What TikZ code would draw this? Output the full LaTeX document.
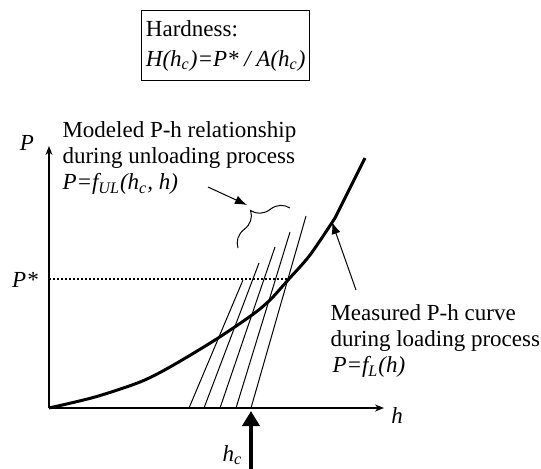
\documentclass[tikz,border=0pt]{standalone}
\usepackage{fontspec}
\setmainfont{Liberation Serif}
\usetikzlibrary{arrows.meta,decorations.pathreplacing}

\begin{document}
\begin{tikzpicture}[x=.5pt,y=-.5pt,>={Latex[length=6pt,width=4.5pt]},line width=.5pt,font=\fontsize{11.5}{13}\selectfont]
  \useasboundingbox (0,0) rectangle (541,468);
  \coordinate (o) at (49,408);
  \coordinate (ptop) at (49,146);
  \coordinate (hend) at (384,408);
  \coordinate (pl) at (49,279);
  \coordinate (pstar) at (288,279);
  \coordinate (hc) at (251,411);
  \coordinate (hcfoot) at (251,470);
  \coordinate (ua) at (208,187); \coordinate (ub) at (247,205);
  \coordinate (la) at (356,290); \coordinate (lb) at (332,222);
  \coordinate (br1) at (238,248); \coordinate (br2) at (290,208);
  % axes
  \draw[-{Stealth[length=4.5pt,width=3.5pt]},line width=1pt] (o)--(ptop);
  \draw[-{Stealth[length=4.5pt,width=3.5pt]},line width=1pt] (o)--(hend);
  \draw[line width=1pt,dash pattern=on 1pt off 1pt] (pl)--(pstar);
  % unloading lines
  \foreach \bx/\tx/\ty in {189/243/280,204/259/263,220/275/247,236/290/232,251/306/216}
    \draw (\bx,408)--(\tx,\ty);
  % loading curve
  \draw[line width=1.5pt,line join=round] plot[smooth,tension=.5] coordinates
    {(49,408) (95,397) (140,382) (170,367) (215,340) (252,315) (270,300) (288,280) (310,255) (335,218)}
    -- (365,158);
  \draw[decorate,decoration={brace,amplitude=11pt}] (br1)--(br2);
  \draw[->] (ua)--(ub);
  \draw[->] (la)--(lb);
  \draw[-{Triangle[length=7.5pt,width=8.5pt]},line width=2pt] (hcfoot)--(hc);
  \node[draw,anchor=north east,align=left,minimum height=35pt,inner xsep=2pt,inner ysep=0pt] (hard) at (310,10)
    {Hardness:\\[2pt]{\itshape H(h\textsubscript{c})=P* / A(h\textsubscript{c})}};
  \node[anchor=north west,inner sep=0,align=left] (ulab) at (62,121)
    {Modeled P-h relationship\\during unloading process\\{\itshape P=f\textsubscript{UL}(h\textsubscript{c}, h)}};
  \node[anchor=north west,inner sep=0,align=left] (llab) at (330,304)
    {Measured P-h curve\\during loading process\\\hspace{1pt}{\itshape P=f\textsubscript{L}(h)}};
  \node (plab) at (27,143) {\itshape P};
  \node (pslab) at (25,280) {\itshape P*};
  \node (hlab) at (397,416) {\itshape h};
  \node[anchor=base west,inner sep=0] (hclab) at (222,461) {\itshape h\textsubscript{c}};
\end{tikzpicture}
\end{document}
